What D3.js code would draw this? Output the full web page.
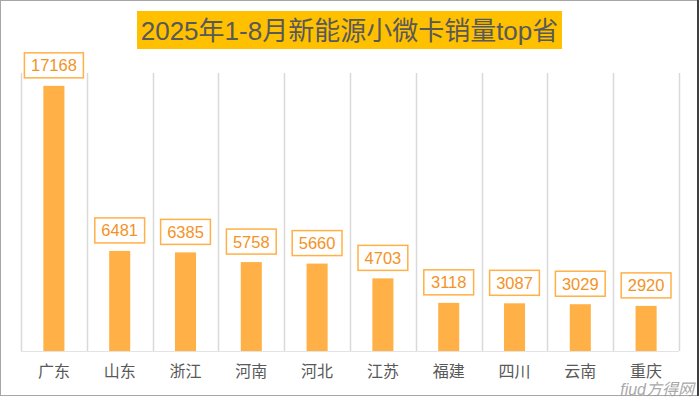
<html>
<head>
  <meta charset="utf-8">
  <script src="https://d3js.org/d3.v7.min.js"></script>
  <style>
    body { margin: 0; background: #fff; }
    svg { display: block; }
  </style>
</head>
<body>
  <svg id="root"></svg>
  <script>
    var titleText = '2025年1-8月新能源小微卡销量top省';
    var provinces = ['广东', '山东', '浙江', '河南', '河北', '江苏', '福建', '四川', '云南', '重庆'];
    var sales = [17168, 6481, 6385, 5758, 5660, 4703, 3118, 3087, 3029, 2920];

    var width = 700, height = 398;
    var fontStack = '"Liberation Sans", Arial, "Noto Sans CJK SC", sans-serif';

    var svg = d3.select('svg#root')
      .attr('width', width)
      .attr('height', height);

    // outer frame
    svg.append('rect')
      .attr('x', 0.5).attr('y', 0.5)
      .attr('width', width - 3).attr('height', height - 3)
      .attr('fill', '#fff')
      .attr('stroke', '#a6a6a6')
      .attr('stroke-width', 1);
    svg.append('line')
      .attr('x1', width - 2).attr('x2', width - 2)
      .attr('y1', 0).attr('y2', height - 2)
      .attr('stroke', '#404040').attr('stroke-width', 2);

    var plotLeft = 21, plotRight = 679, plotTop = 73, plotBottom = 351;

    var grid = d3.scaleBand()
      .domain(provinces)
      .range([plotLeft, plotRight]);
    var x = d3.scaleBand()
      .domain(provinces)
      .range([plotLeft, plotRight])
      .paddingInner(0.68)
      .paddingOuter(0.34);
    var y = d3.scaleLinear()
      .domain([0, 18000])
      .range([plotBottom, plotTop]);

    // vertical category gridlines
    var gridX = provinces.map(function (p) { return grid(p); }).concat([plotRight]);
    svg.append('g')
      .selectAll('line')
      .data(gridX)
      .enter()
      .append('line')
      .attr('x1', function (d) { return Math.round(d) + 0.5; })
      .attr('x2', function (d) { return Math.round(d) + 0.5; })
      .attr('y1', plotTop)
      .attr('y2', plotBottom)
      .attr('stroke', '#d9d9d9')
      .attr('stroke-width', 1.5);
    svg.append('line')
      .attr('x1', plotLeft).attr('x2', plotRight)
      .attr('y1', plotBottom + 0.5).attr('y2', plotBottom + 0.5)
      .attr('stroke', '#e3e3e3');

    // bars
    svg.append('g')
      .selectAll('rect')
      .data(sales)
      .enter()
      .append('rect')
      .attr('x', function (d, i) { return x(provinces[i]); })
      .attr('y', function (d) { return y(d); })
      .attr('width', x.bandwidth())
      .attr('height', function (d) { return plotBottom - y(d); })
      .attr('fill', '#ffb046');

    // value labels in boxes
    var labels = svg.append('g')
      .selectAll('g')
      .data(sales)
      .enter()
      .append('g')
      .attr('transform', function (d, i) {
        return 'translate(' + (x(provinces[i]) + x.bandwidth() / 2) + ',' + (y(d) - 8) + ')';
      });
    labels.append('rect')
      .attr('x', function (d) { return -(String(d).length * 9.2 + 13) / 2; })
      .attr('y', -25)
      .attr('width', function (d) { return String(d).length * 9.2 + 13; })
      .attr('height', 25)
      .attr('fill', '#fff')
      .attr('stroke', '#ffb046')
      .attr('stroke-width', 1.5);
    labels.append('text')
      .attr('text-anchor', 'middle')
      .attr('y', -6.5)
      .attr('font-family', fontStack)
      .attr('font-size', 16.5)
      .attr('fill', '#f39325')
      .text(function (d) { return d; });

    // category labels
    svg.append('g')
      .selectAll('text')
      .data(provinces)
      .enter()
      .append('text')
      .attr('x', function (d) { return x(d) + x.bandwidth() / 2; })
      .attr('y', 377)
      .attr('text-anchor', 'middle')
      .attr('font-family', '"Noto Sans CJK SC", sans-serif')
      .attr('font-size', 16)
      .attr('fill', '#595959')
      .text(function (d) { return d; });

    // title
    svg.append('rect')
      .attr('x', 137).attr('y', 11)
      .attr('width', 425).attr('height', 38)
      .attr('fill', '#ffc000');
    svg.append('text')
      .attr('x', 349.5)
      .attr('y', 39.5)
      .attr('text-anchor', 'middle')
      .attr('font-family', fontStack)
      .attr('font-size', 26)
      .attr('fill', '#595959')
      .text(titleText);

    // watermark
    svg.append('text')
      .attr('x', 694)
      .attr('y', 395)
      .attr('text-anchor', 'end')
      .attr('font-family', fontStack)
      .attr('font-size', 16)
      .attr('font-style', 'italic')
      .attr('fill', '#9a9a9a')
      .attr('opacity', 0.85)
      .text('fiud方得网');
  </script>
</body>
</html>
